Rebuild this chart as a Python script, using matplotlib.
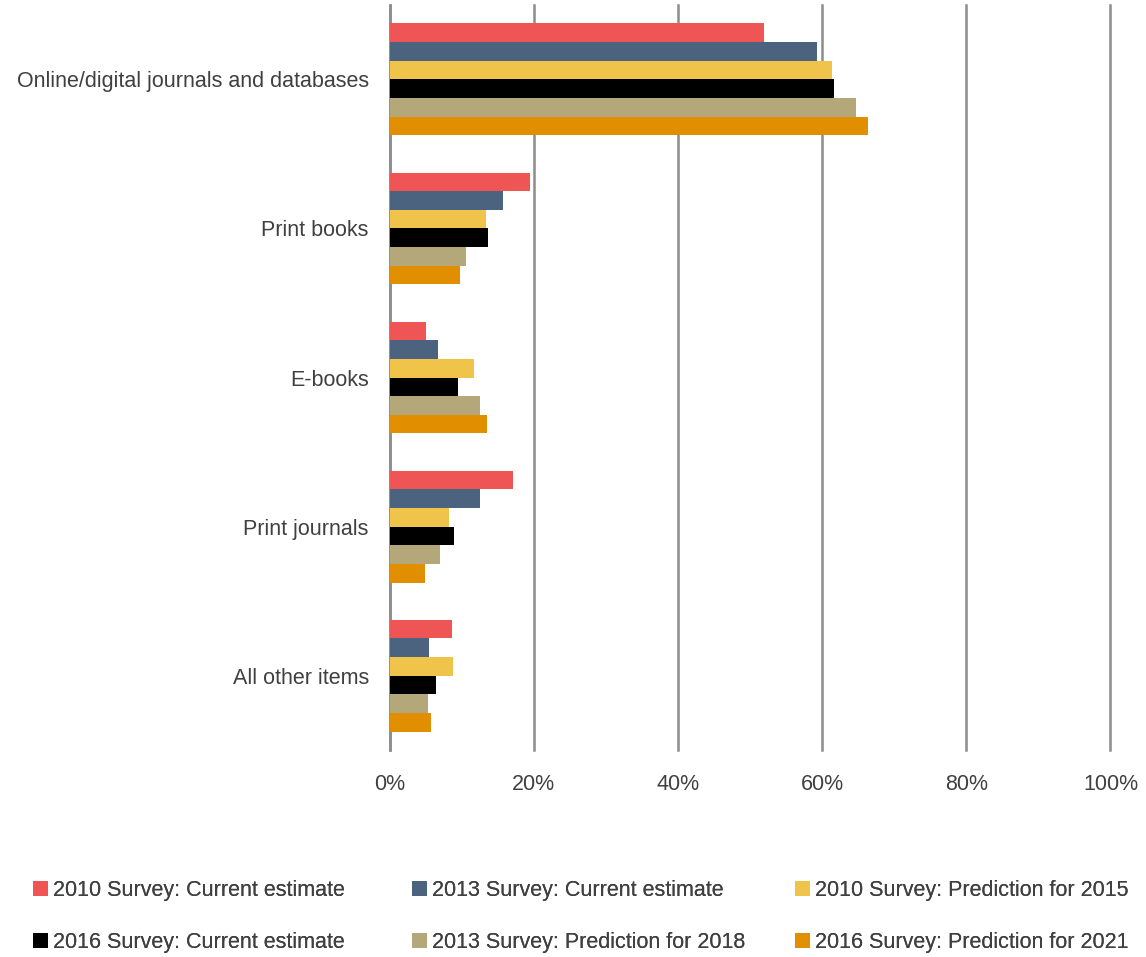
import matplotlib.pyplot as plt
import numpy as np

plt.rcParams['font.family'] = ['Liberation Sans', 'DejaVu Sans']

categories = ['Online/digital journals and databases', 'Print books', 'E-books',
              'Print journals', 'All other items']
series = ['2010 Survey: Current estimate', '2013 Survey: Current estimate',
          '2010 Survey: Prediction for 2015', '2016 Survey: Current estimate',
          '2013 Survey: Prediction for 2018', '2016 Survey: Prediction for 2021']
s2010_current = [51.9, 19.5, 5.1, 17.1, 8.6]
s2013_current = [59.3, 15.7, 6.7, 12.6, 5.5]
s2010_pred2015 = [61.4, 13.4, 11.7, 8.3, 8.75]
s2016_current = [61.7, 13.7, 9.5, 8.9, 6.5]
s2013_pred2018 = [64.7, 10.6, 12.5, 7.0, 5.3]
s2016_pred2021 = [66.3, 9.7, 13.5, 4.9, 5.8]
values = [s2010_current, s2013_current, s2010_pred2015, s2016_current,
          s2013_pred2018, s2016_pred2021]
colors = ['#F05556', '#4B637E', '#F0C44A', '#000000', '#B4A87B', '#E18F00']

fig = plt.figure(figsize=(11.46, 9.57), dpi=100)
ax = fig.add_axes([0.340, 0.216, 0.629, 0.779])

y = np.arange(len(categories))
h = 0.125
handles = []
for i, (vals, col, name) in enumerate(zip(values, colors, series)):
    b = ax.barh(y + (i - 2.5) * h, vals, height=h, color=col, label=name,
                edgecolor='none', zorder=3)
    handles.append(b)

ax.set_ylim(4.5, -0.5)
ax.set_xlim(0, 100)
ax.set_xticks(np.arange(0, 101, 20))
ax.set_xticklabels([f'{v}%' for v in range(0, 101, 20)])
ax.set_yticks(y)
ax.set_yticklabels(categories)
ax.xaxis.grid(True, color='#8C8C8C', linewidth=1.8, zorder=0)
for gl in ax.get_xgridlines():
    gl.set_clip_on(False)
for s in ['top', 'right', 'bottom']:
    ax.spines[s].set_visible(False)
ax.spines['left'].set_color('#8C8C8C')
ax.spines['left'].set_linewidth(1.8)
ax.tick_params(axis='both', length=0, labelsize=15.5, labelcolor='#404040')
ax.tick_params(axis='x', pad=17)
ax.tick_params(axis='y', pad=15)

# legend: three equal-width columns, two rows (Excel style)
col_x = [33 / 1146, 412 / 1146, 795 / 1146]
for c in range(3):
    idx = [c, c + 3]
    leg = fig.legend([handles[k] for k in idx], [series[k] for k in idx],
                     loc='upper left', bbox_to_anchor=(col_x[c], 1 - 880 / 957),
                     frameon=False, fontsize=15.5, labelcolor='#404040',
                     handlelength=0.7, handleheight=0.7, handletextpad=0.25,
                     labelspacing=1.45, borderpad=0, borderaxespad=0)
    fig.add_artist(leg)

fig.savefig('out.png', dpi=100)
